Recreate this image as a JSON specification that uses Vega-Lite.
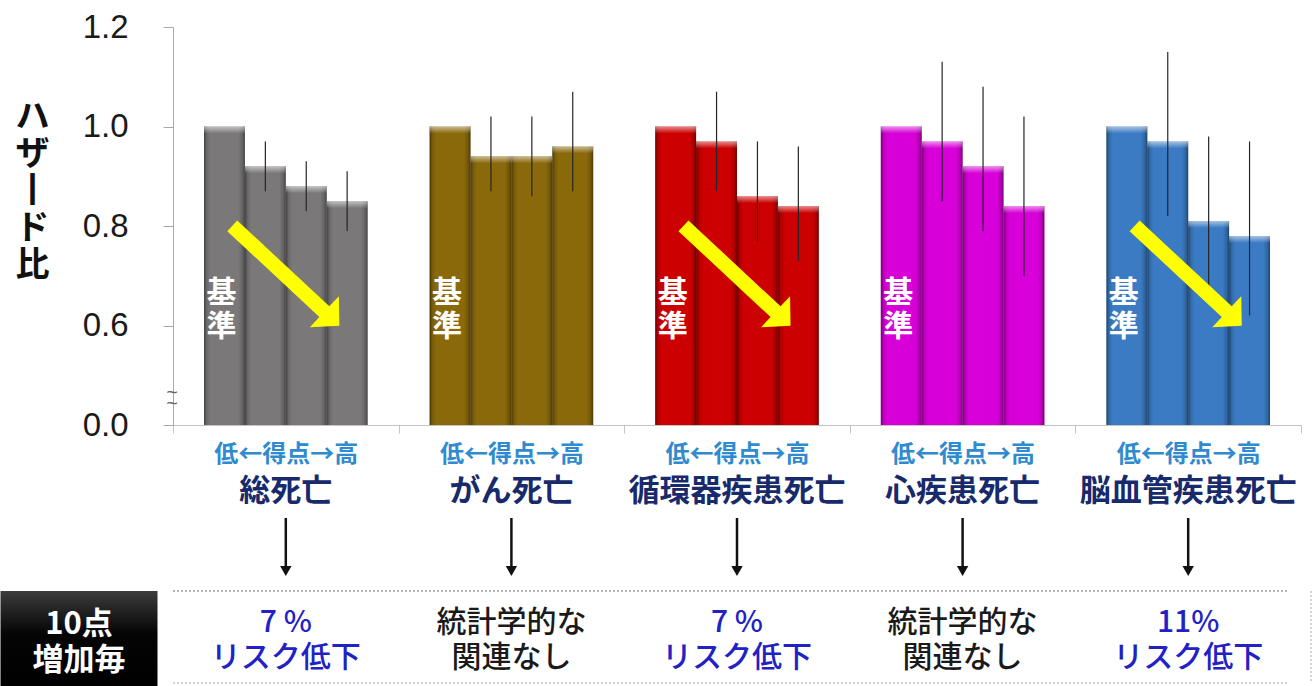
{
  "$schema": "https://vega.github.io/schema/vega-lite/v6.json",
  "width": 1128,
  "height": 398,
  "autosize": {"type": "none"},
  "padding": {"left": 173, "top": 27, "right": 14, "bottom": 261},
  "background": "white",
  "config": {"view": {"stroke": null}, "font": "Noto Sans CJK JP"},
  "datasets": {
    "bars": [
      {"group": "総死亡", "level": 1, "hr": 1.0, "lo": null, "hi": null},
      {"group": "総死亡", "level": 2, "hr": 0.92, "lo": 0.87, "hi": 0.97},
      {"group": "総死亡", "level": 3, "hr": 0.88, "lo": 0.83, "hi": 0.93},
      {"group": "総死亡", "level": 4, "hr": 0.85, "lo": 0.79, "hi": 0.91},
      {"group": "がん死亡", "level": 1, "hr": 1.0, "lo": null, "hi": null},
      {"group": "がん死亡", "level": 2, "hr": 0.94, "lo": 0.87, "hi": 1.02},
      {"group": "がん死亡", "level": 3, "hr": 0.94, "lo": 0.86, "hi": 1.02},
      {"group": "がん死亡", "level": 4, "hr": 0.96, "lo": 0.87, "hi": 1.07},
      {"group": "循環器疾患死亡", "level": 1, "hr": 1.0, "lo": null, "hi": null},
      {"group": "循環器疾患死亡", "level": 2, "hr": 0.97, "lo": 0.87, "hi": 1.07},
      {"group": "循環器疾患死亡", "level": 3, "hr": 0.86, "lo": 0.77, "hi": 0.97},
      {"group": "循環器疾患死亡", "level": 4, "hr": 0.84, "lo": 0.73, "hi": 0.96},
      {"group": "心疾患死亡", "level": 1, "hr": 1.0, "lo": null, "hi": null},
      {"group": "心疾患死亡", "level": 2, "hr": 0.97, "lo": 0.85, "hi": 1.13},
      {"group": "心疾患死亡", "level": 3, "hr": 0.92, "lo": 0.79, "hi": 1.08},
      {"group": "心疾患死亡", "level": 4, "hr": 0.84, "lo": 0.70, "hi": 1.02},
      {"group": "脳血管疾患死亡", "level": 1, "hr": 1.0, "lo": null, "hi": null},
      {"group": "脳血管疾患死亡", "level": 2, "hr": 0.97, "lo": 0.82, "hi": 1.15},
      {"group": "脳血管疾患死亡", "level": 3, "hr": 0.81, "lo": 0.68, "hi": 0.98},
      {"group": "脳血管疾患死亡", "level": 4, "hr": 0.78, "lo": 0.62, "hi": 0.97}
    ],
    "groups": [
      {"group": "総死亡", "sig": "yes", "result": "7 %\nリスク低下"},
      {"group": "がん死亡", "sig": "no", "result": "統計学的な\n関連なし"},
      {"group": "循環器疾患死亡", "sig": "yes", "result": "7 %\nリスク低下"},
      {"group": "心疾患死亡", "sig": "no", "result": "統計学的な\n関連なし"},
      {"group": "脳血管疾患死亡", "sig": "yes", "result": "11%\nリスク低下"}
    ]
  },
  "layer": [
    {
      "data": {"name": "bars"},
      "mark": {"type": "bar"},
      "encoding": {
        "x": {
          "field": "group", "type": "nominal",
          "scale": {"domain": ["総死亡", "がん死亡", "循環器疾患死亡", "心疾患死亡", "脳血管疾患死亡"], "paddingInner": 0, "paddingOuter": 0},
          "axis": {
            "title": null, "labelExpr": "(datum.extra || datum.index > 1.001) ? '' : '低←得点→高'", "labelFont": "Noto Sans CJK JP", "labelFontSize": 24,
            "labelFontWeight": "bold", "labelColor": "#2f8ad0", "labelAngle": 0, "labelBaseline": "middle",
            "labelAlign": "center", "labelFlush": false, "labelBound": false, "labelOverlap": false,
            "labelPadding": 21, "tickBand": "extent", "tickSize": 8, "tickColor": "#c4c4c4",
            "domainColor": "#c4c4c4", "grid": false
          }
        },
        "xOffset": {"field": "level", "type": "ordinal", "scale": {"paddingInner": 0, "paddingOuter": 0.758}},
        "y": {
          "field": "hr", "type": "quantitative",
          "scale": {"domain": [0.4, 1.2], "zero": false, "nice": false},
          "axis": {
            "values": [0.4, 0.6, 0.8, 1.0, 1.2],
            "labelExpr": "datum.value < 0.45 ? '0.0' : format(datum.value, '.1f')",
            "labelFont": "Liberation Sans", "labelFontSize": 33, "labelColor": "#1a1a1a", "labelPadding": 35,
            "tickSize": 10, "tickColor": "#a8a8a8", "domainColor": "#a8a8a8", "grid": false,
            "title": ["ハ", "ザ", "丨", "ド", "比"], "titleAngle": 0, "titleFont": "Noto Sans CJK JP",
            "titleFontSize": 34, "titleFontWeight": "bold", "titleColor": "#111111", "titleLineHeight": 37,
            "titleX": -141, "titleY": 73, "titleAlign": "center", "titleBaseline": "top"
          }
        },
        "y2": {"datum": 0.4},
        "color": {
          "field": "group", "type": "nominal",
          "scale": {"domain": ["総死亡", "がん死亡", "循環器疾患死亡", "心疾患死亡", "脳血管疾患死亡"], "range": ["#7a7878", "#8a690b", "#cc0000", "#d800d8", "#3a7bc3"]},
          "legend": null
        }
      }
    },
    {
      "data": {"name": "bars"},
      "mark": {"type": "bar", "fill": {"gradient": "linear", "x1": 0, "y1": 0, "x2": 1, "y2": 0, "stops": [
        {"offset": 0, "color": "rgba(0,0,0,0.45)"}, {"offset": 0.07, "color": "rgba(0,0,0,0.12)"},
        {"offset": 0.16, "color": "rgba(0,0,0,0)"}, {"offset": 0.84, "color": "rgba(0,0,0,0)"},
        {"offset": 0.94, "color": "rgba(0,0,0,0.18)"}, {"offset": 1, "color": "rgba(0,0,0,0.45)"}]}},
      "encoding": {
        "x": {"field": "group", "type": "nominal"},
        "xOffset": {"field": "level", "type": "ordinal"},
        "y": {"field": "hr", "type": "quantitative"},
        "y2": {"datum": 0.4}
      }
    },
    {
      "data": {"name": "bars"},
      "mark": {"type": "bar", "y2Offset": 7, "fill": {"gradient": "linear", "x1": 0, "y1": 0, "x2": 0, "y2": 1, "stops": [
        {"offset": 0, "color": "rgba(255,255,255,0.55)"}, {"offset": 1, "color": "rgba(255,255,255,0)"}]}},
      "encoding": {
        "x": {"field": "group", "type": "nominal"},
        "xOffset": {"field": "level", "type": "ordinal"},
        "y": {"field": "hr", "type": "quantitative"},
        "y2": {"field": "hr"}
      }
    },
    {
      "data": {"name": "bars"},
      "transform": [{"filter": "datum.lo != null"}],
      "mark": {"type": "rule", "color": "#262626", "strokeWidth": 1.2},
      "encoding": {
        "x": {"field": "group", "type": "nominal"},
        "xOffset": {"field": "level", "type": "ordinal"},
        "y": {"field": "lo", "type": "quantitative"},
        "y2": {"field": "hi"}
      }
    },
    {
      "data": {"name": "bars"},
      "transform": [{"filter": "datum.level == 1"}],
      "mark": {"type": "text", "color": "white", "fontSize": 30, "fontWeight": "bold", "lineBreak": "\n", "lineHeight": 34, "baseline": "middle", "align": "center", "dx": -3},
      "encoding": {
        "x": {"field": "group", "type": "nominal"},
        "xOffset": {"field": "level", "type": "ordinal"},
        "y": {"datum": 0.665},
        "text": {"value": "基\n準"}
      }
    },
    {
      "data": {"name": "groups"},
      "transform": [{"filter": "datum.sig == 'yes'"}],
      "mark": {"type": "point", "shape": "M-1,-0.1 L0.72,-0.1 L0.72,-0.29 L1,0 L0.72,0.29 L0.72,0.1 L-1,0.1 Z", "size": 21460, "angle": 43, "filled": true, "color": "#ffff00", "opacity": 1},
      "encoding": {
        "x": {"field": "group", "type": "nominal"},
        "y": {"datum": 0.70}
      }
    },
    {
      "data": {"values": [{"sym": "~\n~"}]},
      "mark": {"type": "text", "fontSize": 20, "lineBreak": "\n", "lineHeight": 11, "color": "#666666", "font": "Liberation Sans", "baseline": "middle", "align": "center", "dx": -1},
      "encoding": {
        "x": {"datum": "総死亡", "bandPosition": 0},
        "y": {"datum": 0.464},
        "text": {"field": "sym"}
      }
    },
    {
      "data": {"name": "groups"},
      "mark": {"type": "text", "fontSize": 31, "fontWeight": "bold", "color": "#172a6b", "baseline": "middle", "align": "center", "dy": 67},
      "encoding": {
        "x": {"field": "group", "type": "nominal"},
        "y": {"datum": 0.4},
        "text": {"field": "group"}
      }
    },
    {
      "data": {"name": "groups"},
      "mark": {"type": "rule", "color": "#111111", "strokeWidth": 2.5, "yOffset": 93, "y2Offset": 142},
      "encoding": {
        "x": {"field": "group", "type": "nominal"},
        "y": {"datum": 0.4},
        "y2": {"datum": 0.4}
      }
    },
    {
      "data": {"name": "groups"},
      "mark": {"type": "point", "shape": "triangle-down", "size": 130, "filled": true, "color": "#111111", "opacity": 1, "yOffset": 146},
      "encoding": {
        "x": {"field": "group", "type": "nominal"},
        "y": {"datum": 0.4}
      }
    },
    {
      "data": {"values": [{"edge": "top"}]},
      "mark": {"type": "rule", "strokeDash": [2, 2], "color": "#9a9a9a", "strokeWidth": 1.5, "yOffset": 166, "xOffset": -14, "x2Offset": 12},
      "encoding": {"y": {"datum": 0.4}}
    },
    {
      "data": {"values": [{"edge": "bottom"}]},
      "mark": {"type": "rule", "strokeDash": [2, 2], "color": "#c8c8c8", "strokeWidth": 1.5, "yOffset": 258, "xOffset": -14, "x2Offset": 12},
      "encoding": {"y": {"datum": 0.4}}
    },
    {
      "data": {"values": [{"edge": "right"}]},
      "mark": {"type": "rule", "strokeDash": [2, 2], "color": "#c8c8c8", "strokeWidth": 1.5, "xOffset": 10, "yOffset": 166, "y2Offset": 258},
      "encoding": {
        "x": {"datum": "脳血管疾患死亡", "bandPosition": 1},
        "y": {"datum": 0.4},
        "y2": {"datum": 0.4}
      }
    },
    {
      "data": {"values": [{"label": "10点\n増加毎"}]},
      "mark": {"type": "bar", "width": 157, "xOffset": -206.8, "yOffset": 166, "y2Offset": 261, "fill": {"gradient": "linear", "x1": 0, "y1": 0, "x2": 0, "y2": 1, "stops": [
        {"offset": 0, "color": "#3c3c3c"}, {"offset": 0.45, "color": "#050505"}, {"offset": 1, "color": "#000000"}]}},
      "encoding": {
        "x": {"datum": "総死亡"},
        "y": {"datum": 0.4},
        "y2": {"datum": 0.4}
      }
    },
    {
      "data": {"values": [{"label": "10点\n増加毎"}]},
      "mark": {"type": "text", "color": "white", "fontSize": 31, "fontWeight": "bold", "lineBreak": "\n", "lineHeight": 36, "baseline": "middle", "align": "center", "dx": -206.8, "dy": 200},
      "encoding": {
        "x": {"datum": "総死亡"},
        "y": {"datum": 0.4},
        "text": {"field": "label"}
      }
    },
    {
      "data": {"name": "groups"},
      "transform": [{"filter": "datum.sig == 'yes'"}],
      "mark": {"type": "text", "color": "#2222c4", "fontSize": 30, "fontWeight": 500, "lineBreak": "\n", "lineHeight": 35, "baseline": "middle", "align": "center", "dy": 198},
      "encoding": {
        "x": {"field": "group", "type": "nominal"},
        "y": {"datum": 0.4},
        "text": {"field": "result"}
      }
    },
    {
      "data": {"name": "groups"},
      "transform": [{"filter": "datum.sig == 'no'"}],
      "mark": {"type": "text", "color": "#1a1a1a", "fontSize": 30, "fontWeight": 500, "lineBreak": "\n", "lineHeight": 35, "baseline": "middle", "align": "center", "dy": 198},
      "encoding": {
        "x": {"field": "group", "type": "nominal"},
        "y": {"datum": 0.4},
        "text": {"field": "result"}
      }
    }
  ]
}
